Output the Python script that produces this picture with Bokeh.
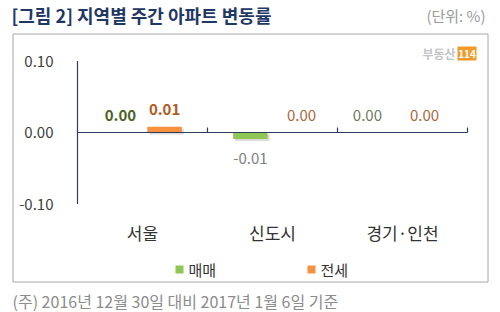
from bokeh.plotting import figure
from bokeh.models import Range1d
from bokeh.core.properties import value
from bokeh.embed import file_html
from bokeh.resources import INLINE

# ---- data ----
categories = ["서울", "신도시", "경기·인천"]
series_names = ["매매", "전세"]
sale = [0.00, -0.009, 0.00]       # 매매
jeonse = [0.008, 0.00, 0.00]      # 전세
y_ticks = [0.10, 0.00, -0.10]
y_tick_labels = ["0.10", "0.00", "-0.10"]
title_text = "[그림 2] 지역별 주간 아파트 변동률"
unit_text = "(단위: %)"
note_text = "(주) 2016년 12월 30일 대비 2017년 1월 6일 기준"

# ---- layout helpers (pixel -> data) ----
PX0, PXU, PY0, PYU = 77.0, 130.0, 132.0, 715.0
def X(px):
    return (px - PX0) / PXU
def Y(py):
    return (PY0 - py) / PYU

FONT = value("Noto Sans CJK KR")
W, H = 500, 312

p = figure(width=W, height=H, output_backend="svg", toolbar_location=None,
           x_range=Range1d(X(0), X(W)), y_range=Range1d(Y(H), Y(0)),
           x_axis_type=None, y_axis_type=None, min_border=0,
           outline_line_color=None, background_fill_color="white",
           border_fill_color="white")
p.grid.visible = False

# frame box
p.quad(left=[X(12.5)], right=[X(487.5)], top=[Y(33.5)], bottom=[Y(281.5)],
       fill_color=None, line_color="#a6a6a6", line_width=1)

# title / unit / note
p.text(x=[X(11)], y=[Y(14)], text=[title_text], text_font=FONT,
       text_font_size="18px", text_font_style="bold", text_color="#1f3864",
       text_align="left", text_baseline="middle")
p.text(x=[X(485)], y=[Y(15)], text=[unit_text], text_font=FONT,
       text_font_size="15px", text_color="#9a9a9a",
       text_align="right", text_baseline="middle")
p.text(x=[X(12)], y=[Y(300)], text=[note_text], text_font=FONT,
       text_font_size="16px", text_color="#8c8c8c",
       text_align="left", text_baseline="middle")

# logo
p.text(x=[X(455)], y=[Y(53)], text=["부동산"], text_font=FONT,
       text_font_size="12px", text_font_style="bold", text_color="#c4c4c4",
       text_align="right", text_baseline="middle")
p.quad(left=[X(457)], right=[X(476)], top=[Y(46)], bottom=[Y(60)],
       fill_color="#f39a2c", line_color=None)
p.text(x=[X(466.5)], y=[Y(53)], text=["114"], text_font=FONT,
       text_font_size="10px", text_font_style="bold", text_color="white",
       text_align="center", text_baseline="middle")

# bars
off, bw = 0.17, 0.265
n = len(categories)
xs_sale = [i + 0.5 - off for i in range(n)]
xs_jeonse = [i + 0.5 + off for i in range(n)]
sdx, sdy = 2 / PXU, 2 / PYU
for xs, vals, col in [(xs_sale, sale, "#8fc655"), (xs_jeonse, jeonse, "#f7913f")]:
    p.vbar(x=[x + sdx for x in xs], width=bw, top=[v - sdy for v in vals],
           bottom=[-sdy] * n, fill_color="#9a9a9a", fill_alpha=0.35, line_color=None)
    p.vbar(x=xs, width=bw, top=vals, bottom=[0] * n, fill_color=col, line_color=None)

# axes
axis_col = "#2f3d5c"
p.segment(x0=[0], y0=[y_ticks[-1]], x1=[0], y1=[y_ticks[0]], line_color=axis_col, line_width=1.2)
p.segment(x0=[0], y0=[0], x1=[n], y1=[0], line_color=axis_col, line_width=1.2)
p.segment(x0=[i + 1 for i in range(n)], y0=[0] * n, x1=[i + 1 for i in range(n)],
          y1=[Y(127)] * n, line_color=axis_col, line_width=1.2)

# y tick labels
p.text(x=[X(53)] * len(y_ticks), y=y_ticks, text=y_tick_labels, text_font=FONT,
       text_font_size="15px", text_color="#404040", text_align="right",
       text_baseline="middle")

# category labels
p.text(x=[i + 0.5 for i in range(n)], y=[Y(232)] * n, text=categories, text_font=FONT,
       text_font_size="17px", text_color="#333333", text_align="center",
       text_baseline="middle")

# data labels
def fmt(v):
    s = f"{v:.2f}"
    return "0.00" if s == "-0.00" else s

sale_xoff = [0, 0, -13]
jeonse_xoff = [0, 7, 0]
for xs, vals, xoffs, bold_col, norm_col in [
        (xs_sale, sale, sale_xoff, "#4f6228", "#707a5e"),
        (xs_jeonse, jeonse, jeonse_xoff, "#b35a22", "#a9683e")]:
    for i, (x, v) in enumerate(zip(xs, vals)):
        bold = (i == 0)
        p.text(x=[x], y=[v], text=[fmt(v)], x_offset=xoffs[i],
               y_offset=(-17 if v >= 0 else 20), text_font=FONT,
               text_font_size="15px", text_font_style=("bold" if bold else "normal"),
               text_color=(bold_col if bold else (norm_col if v >= 0 else "#808080")),
               text_align="center", text_baseline="middle")

# legend
leg_cols = ["#8fc655", "#f7913f"]
leg_x = [175, 307]
for name, col, lx in zip(series_names, leg_cols, leg_x):
    p.quad(left=[X(lx)], right=[X(lx + 8)], top=[Y(265)], bottom=[Y(273)],
           fill_color=col, line_color=None)
    p.text(x=[X(lx + 13)], y=[Y(269)], text=[name], text_font=FONT,
           text_font_size="15px", text_color="#333333", text_align="left",
           text_baseline="middle")

open("out.html", "w").write(file_html(p, INLINE))
